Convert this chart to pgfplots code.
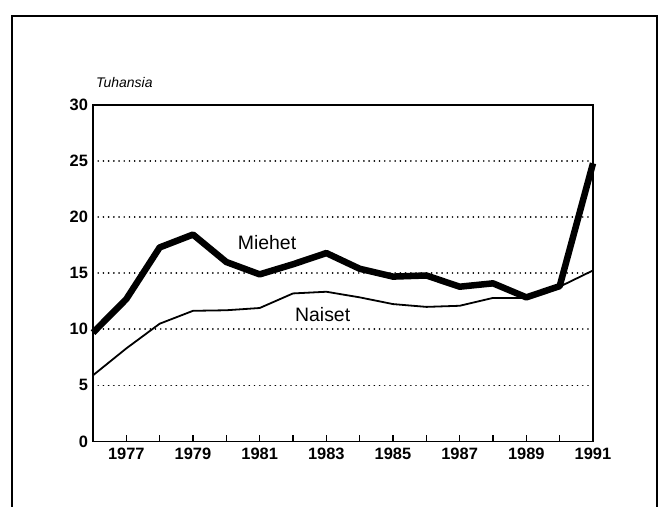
\documentclass[border=0pt]{standalone}
\usepackage{fontspec}
\setmainfont{Liberation Sans}
\usepackage{pgfplots}
\pgfplotsset{compat=1.18}

% Tuhansia, 1976-1991
\pgfplotstableread{
year miehet naiset
1976 9.7   5.9
1977 12.7  8.3
1978 17.3  10.5
1979 18.45 11.65
1980 16.0  11.7
1981 14.9  11.9
1982 15.8  13.2
1983 16.8  13.35
1984 15.4  12.85
1985 14.7  12.25
1986 14.8  12.0
1987 13.8  12.1
1988 14.1  12.8
1989 12.85 12.8
1990 13.85 13.8
1991 24.8  15.25
}\datatable

\begin{document}
\begin{tikzpicture}[x=1bp,y=1bp]
\useasboundingbox (0,0) rectangle (661,507);
% frame round the figure
\draw[line width=2bp] (11.5,0) -- (11.5,491) -- (657,491) -- (657,0);
\node[anchor=base west, inner sep=0pt, font=\itshape\fontsize{14}{14}\selectfont] at (96,419) {Tuhansia};
\begin{axis}[
  at={(93bp,65.5bp)}, anchor=south west,
  scale only axis, width=500bp, height=336.5bp,
  xmin=1976, xmax=1991, ymin=0, ymax=30,
  xtick={1976,...,1991},
  xticklabels={,1977,,1979,,1981,,1983,,1985,,1987,,1989,,1991},
  ytick={0,5,...,30},
  xtick pos=bottom, tick align=inside,
  major tick length=6bp,
  ytick style={draw=none},
  xtick style={line width=1.5bp, black},
  axis line style={line width=1.8bp},
  ymajorgrids,
  major grid style={black, line width=1.8bp, line cap=round, dash pattern=on 0.01bp off 5.2bp},
  /pgf/number format/assume math mode=true,
  ticklabel style={font=\bfseries\fontsize{16.5}{16.5}\selectfont},
  xticklabel style={yshift=-3bp},
  yticklabel style={xshift=-1.5bp},
  clip=false,
]
\addplot[black, line width=1.8bp, line join=round] table[x=year, y=naiset] {\datatable};
\addplot[black, line width=6.5bp, line join=round] table[x=year, y=miehet] {\datatable};
\node[font=\fontsize{19.5}{19.5}\selectfont] at (axis cs:1981.22,17.7) {Miehet};
\node[font=\fontsize{19.5}{19.5}\selectfont] at (axis cs:1982.89,11.36) {Naiset};
\end{axis}
\end{tikzpicture}
\end{document}
